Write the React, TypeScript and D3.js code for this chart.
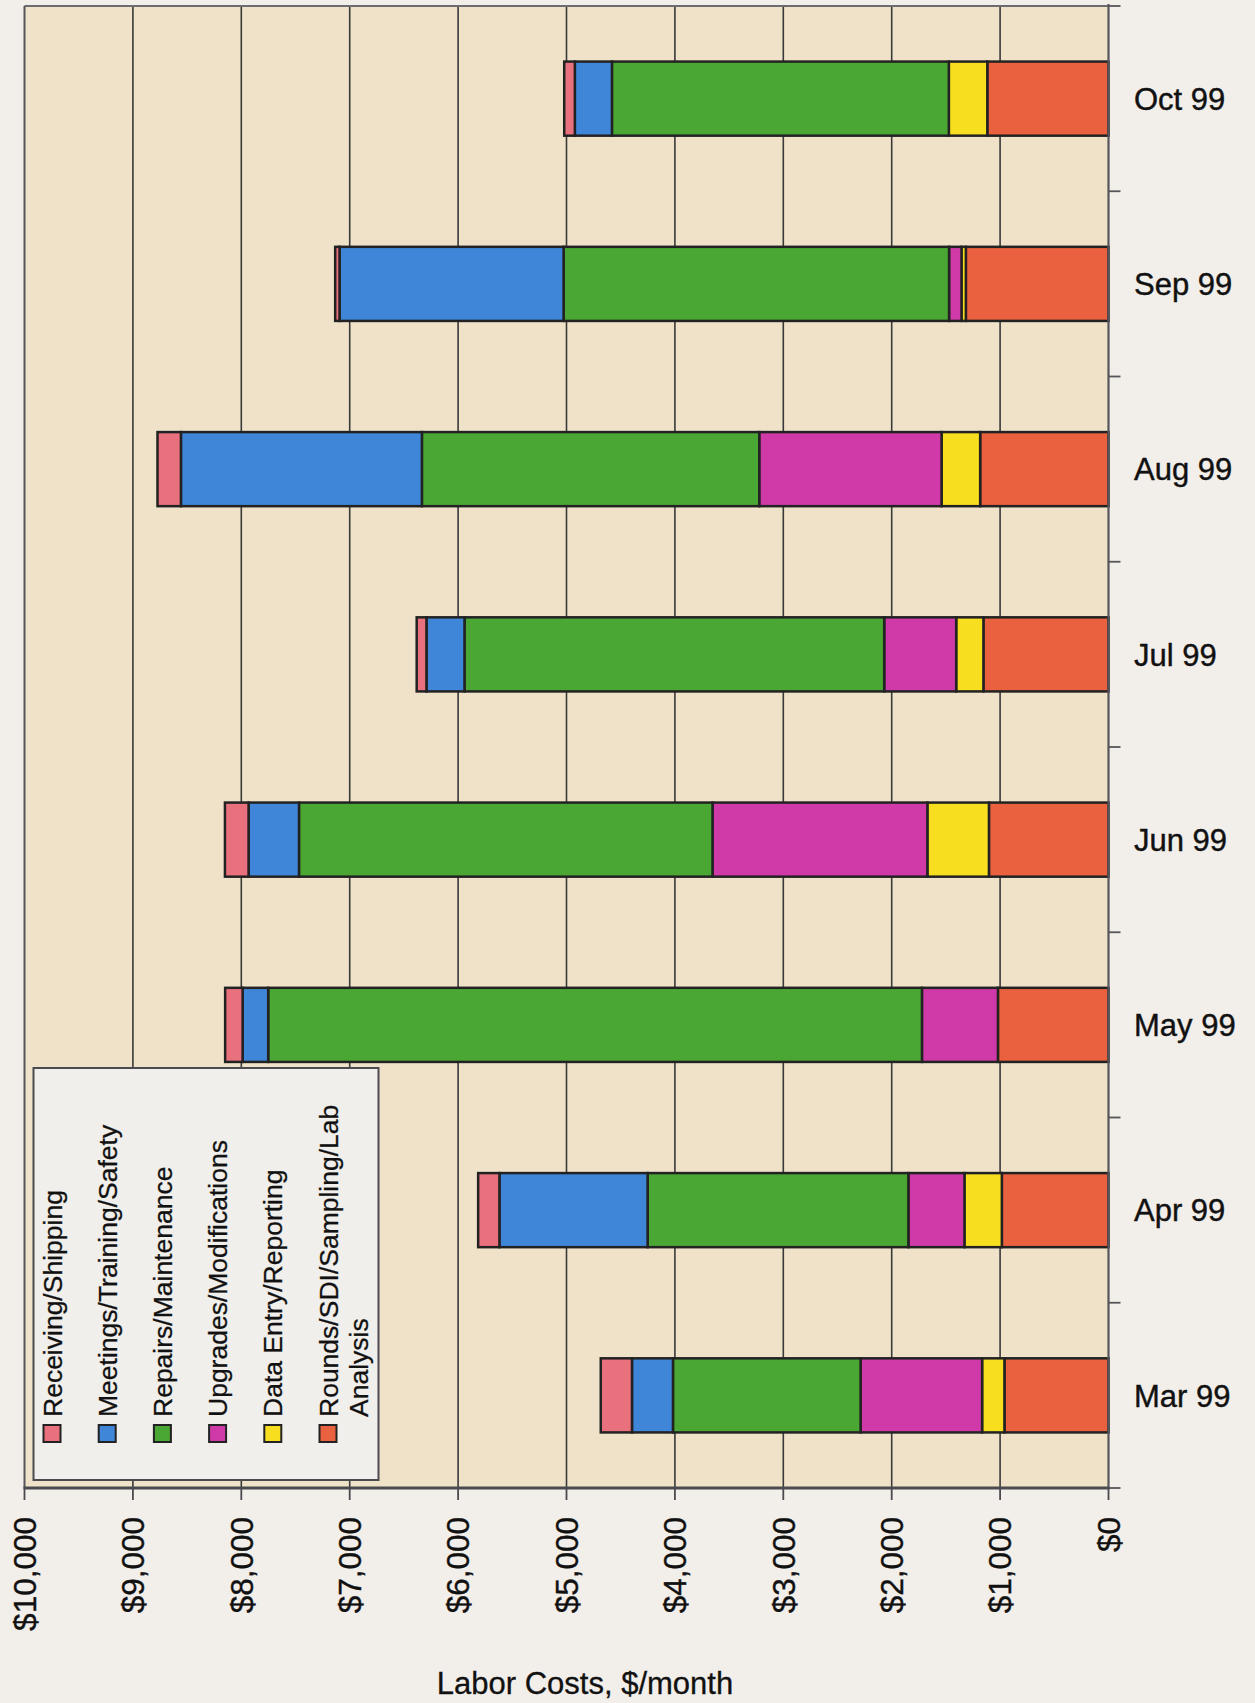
import React from 'react';
import * as d3 from 'd3';

const width = 1255;
const height = 1703;

// months, listed bottom to top as in the original column order
const months = ['Mar 99', 'Apr 99', 'May 99', 'Jun 99', 'Jul 99', 'Aug 99', 'Sep 99', 'Oct 99'];

// labor costs in $/month per category
const receiving = [288, 196, 161, 218, 90, 216, 40, 98];
const meetings = [378, 1367, 236, 465, 351, 2223, 2067, 342];
const repairs = [1731, 2406, 6031, 3815, 3872, 3112, 3556, 3108];
const upgrades = [1121, 517, 701, 1982, 664, 1682, 115, 0];
const dataEntry = [206, 345, 0, 568, 251, 356, 40, 355];
const rounds = [960, 984, 1020, 1103, 1154, 1184, 1316, 1118];

const seriesNames = [
  'Receiving/Shipping',
  'Meetings/Training/Safety',
  'Repairs/Maintenance',
  'Upgrades/Modifications',
  'Data Entry/Reporting',
  'Rounds/SDI/Sampling/Lab Analysis',
];
const seriesColors = ['#e9717d', '#3f86d9', '#4ba733', '#cf3aa8', '#f7de1f', '#e9613f'];

const tickValues = [10000, 9000, 8000, 7000, 6000, 5000, 4000, 3000, 2000, 1000, 0];

const plot = { left: 24.5, right: 1108.5, top: 6, bottom: 1488 };
const font = 'Liberation Sans, Arial, Helvetica, sans-serif';

export default function App() {
  const x = d3.scaleLinear().domain([0, 10000]).range([plot.right, plot.left]);
  const y = d3
    .scaleBand<string>()
    .domain([...months].reverse())
    .range([plot.top, plot.bottom])
    .paddingInner(0.6)
    .paddingOuter(0.3);

  const rows = months.map((m, i) => ({
    month: m,
    rounds: rounds[i],
    dataEntry: dataEntry[i],
    upgrades: upgrades[i],
    repairs: repairs[i],
    meetings: meetings[i],
    receiving: receiving[i],
  }));
  // stacked outward from $0 (right side)
  const keys = ['rounds', 'dataEntry', 'upgrades', 'repairs', 'meetings', 'receiving'];
  const keyColor: Record<string, string> = {
    rounds: seriesColors[5],
    dataEntry: seriesColors[4],
    upgrades: seriesColors[3],
    repairs: seriesColors[2],
    meetings: seriesColors[1],
    receiving: seriesColors[0],
  };
  const stacked = d3.stack<any>().keys(keys)(rows);

  const step = y.step();
  const boundaries = d3.range(months.length + 1).map((k) => plot.top + k * step);

  const legendX0 = 52;
  const legendStep = 55.2;
  const legendBase = 1417;

  return (
    <div style={{ position: 'absolute', left: 0, top: 0, width, height, background: '#f2eeea' }}>
      <svg width={width} height={height} style={{ display: 'block', fontFamily: font }}>
        <rect x={0} y={0} width={width} height={height} fill="#f2eeea" />
        {/* plot area */}
        <rect
          x={plot.left}
          y={plot.top}
          width={plot.right - plot.left}
          height={plot.bottom - plot.top}
          fill="#efe2c9"
        />
        {/* gridlines */}
        {tickValues
          .filter((v) => v !== 0 && v !== 10000)
          .map((v) => (
            <line key={'g' + v} x1={x(v)} x2={x(v)} y1={plot.top} y2={plot.bottom} stroke="#3a3a3a" strokeWidth={1.6} />
          ))}
        {/* border top / left */}
        <line x1={plot.left} x2={plot.right} y1={plot.top} y2={plot.top} stroke="#6b6b70" strokeWidth={2} />
        <line x1={plot.left} x2={plot.left} y1={plot.top} y2={plot.bottom} stroke="#55555a" strokeWidth={2} />

        {/* bars */}
        {stacked.map((layer) =>
          layer.map((d, i) => {
            const v = d[1] - d[0];
            if (v <= 0) return null;
            const m = rows[i].month;
            return (
              <rect
                key={layer.key + m}
                x={x(d[1])}
                y={y(m)}
                width={x(d[0]) - x(d[1])}
                height={y.bandwidth()}
                fill={keyColor[layer.key]}
                stroke="#222"
                strokeWidth={2.5}
              />
            );
          })
        )}

        {/* category axis on right */}
        <line x1={plot.right} x2={plot.right} y1={plot.top - 2} y2={plot.bottom} stroke="#55555a" strokeWidth={2.2} />
        {boundaries.map((b, k) => (
          <line key={'ct' + k} x1={plot.right} x2={plot.right + 12} y1={b} y2={b} stroke="#55555a" strokeWidth={1.8} />
        ))}
        {months.map((m) => (
          <text
            key={'cl' + m}
            x={1134}
            y={(y(m) as number) + y.bandwidth() / 2}
            dy="0.36em"
            fontSize={31}
            fill="#111"
            stroke="#111"
            strokeWidth={0.4}
          >
            {m}
          </text>
        ))}

        {/* value axis on bottom */}
        <line x1={plot.left - 1} x2={plot.right + 1} y1={plot.bottom} y2={plot.bottom} stroke="#4a4a4f" strokeWidth={3} />
        {tickValues.map((v) => (
          <g key={'t' + v}>
            <line x1={x(v)} x2={x(v)} y1={plot.bottom} y2={plot.bottom + 12} stroke="#4a4a4f" strokeWidth={1.8} />
            <text
              transform={`translate(${x(v)},1517) rotate(-90)`}
              textAnchor="end"
              dy="0.36em"
              fontSize={31.5}
              fill="#111"
              stroke="#111"
              strokeWidth={0.4}
            >
              {d3.format('$,')(v)}
            </text>
          </g>
        ))}
        <text x={585} y={1694} textAnchor="middle" fontSize={31} fill="#111" stroke="#111" strokeWidth={0.3}>
          Labor Costs, $/month
        </text>

        {/* legend */}
        <rect x={33.5} y={1068} width={345} height={412} fill="#f1efec" stroke="#4a4a4f" strokeWidth={2} />
        {seriesNames.map((name, i) => {
          const cx = legendX0 + i * legendStep;
          const lines = i === 5 ? ['Rounds/SDI/Sampling/Lab', 'Analysis'] : [name];
          return (
            <g key={'l' + i}>
              <rect x={cx - 8.5} y={1425} width={17} height={17} fill={seriesColors[i]} stroke="#222" strokeWidth={2} />
              {lines.map((ln, j) => (
                <text
                  key={j}
                  transform={`translate(${cx + j * 30},${legendBase}) rotate(-90)`}
                  dy="0.36em"
                  fontSize={26.5}
                  fill="#111"
                  stroke="#111"
                  strokeWidth={0.3}
                >
                  {ln}
                </text>
              ))}
            </g>
          );
        })}
      </svg>
    </div>
  );
}
